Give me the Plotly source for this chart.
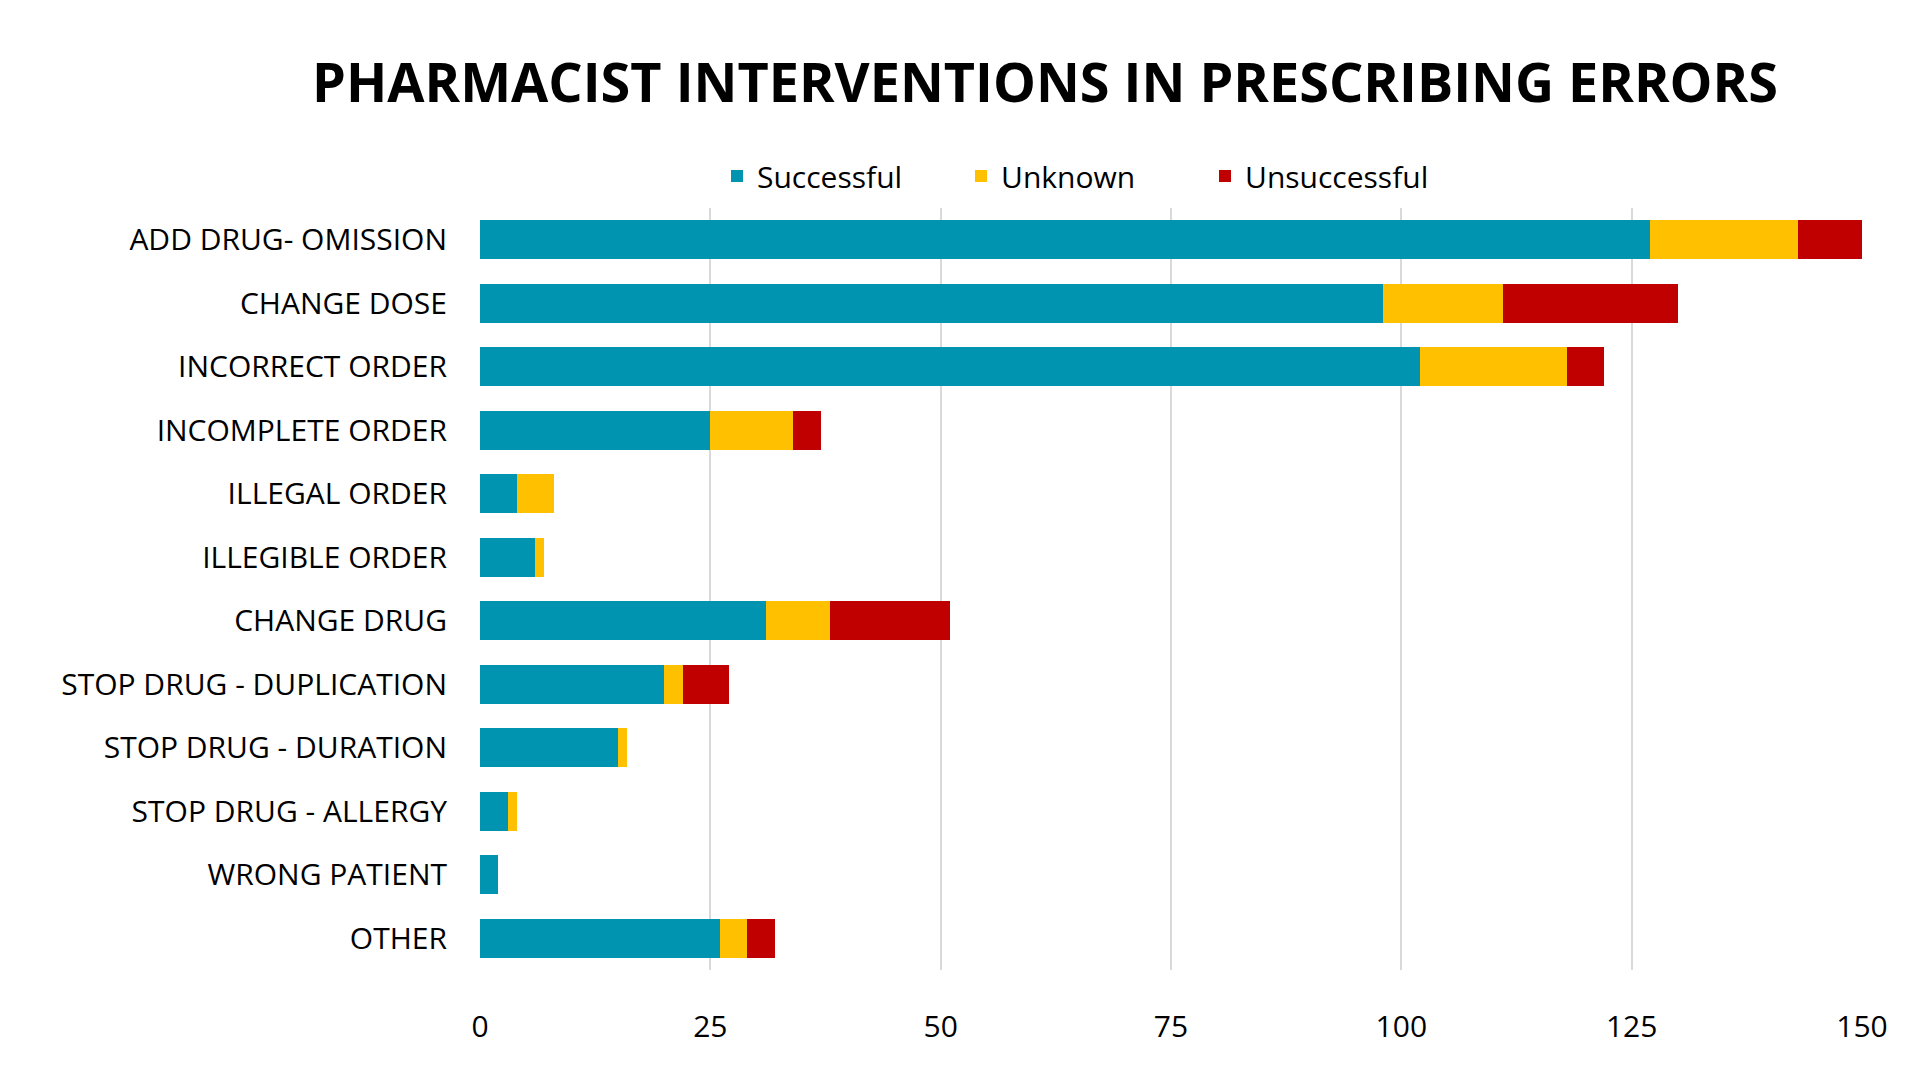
import plotly.graph_objects as go

categories = ["ADD DRUG- OMISSION", "CHANGE DOSE", "INCORRECT ORDER", "INCOMPLETE ORDER",
              "ILLEGAL ORDER", "ILLEGIBLE ORDER", "CHANGE DRUG", "STOP DRUG - DUPLICATION",
              "STOP DRUG - DURATION", "STOP DRUG - ALLERGY", "WRONG PATIENT", "OTHER"]
successful = [127, 98, 102, 25, 4, 6, 31, 20, 15, 3, 2, 26]
unknown = [16, 13, 16, 9, 4, 1, 7, 2, 1, 1, 0, 3]
unsuccessful = [7, 19, 4, 3, 0, 0, 13, 5, 0, 0, 0, 3]
x_ticks = [0, 25, 50, 75, 100, 125, 150]

font_family = "Open Sans, Noto Sans, sans-serif"

fig = go.Figure()
for name, vals, color in [("Successful", successful, "#0094B0"),
                          ("Unknown", unknown, "#FFC000"),
                          ("Unsuccessful", unsuccessful, "#C00000")]:
    fig.add_trace(go.Bar(y=categories, x=vals, name=name, orientation="h",
                         marker=dict(color=color, line=dict(width=0))))

fig.update_layout(
    barmode="stack",
    bargap=0.385,
    width=1920, height=1080,
    paper_bgcolor="white", plot_bgcolor="white",
    margin=dict(l=480, r=58, t=208, b=110),
    title=dict(text="<b>PHARMACIST INTERVENTIONS IN PRESCRIBING ERRORS</b>",
               x=1045 / 1920, xanchor="center", y=1 - 83 / 1080, yanchor="middle",
               font=dict(family=font_family, size=54, color="black")),
    legend=dict(orientation="h", x=0.1715, xanchor="left", y=1.042, yanchor="middle",
                font=dict(family=font_family, size=30, color="#000000"),
                traceorder="normal", itemwidth=30, entrywidth=199, entrywidthmode="pixels"),
    font=dict(family=font_family, color="black"),
)
fig.update_xaxes(range=[0, 150], tickvals=x_ticks, showgrid=True, gridcolor="#D9D9D9",
                 gridwidth=2, zeroline=False, showline=False,
                 tickfont=dict(family=font_family, size=30, color="black"),
                 ticklabelstandoff=36)
fig.update_yaxes(autorange="reversed", showgrid=False, showline=False,
                 tickfont=dict(family=font_family, size=30, color="black"),
                 ticklabelstandoff=32)

fig.write_html("out.html")
